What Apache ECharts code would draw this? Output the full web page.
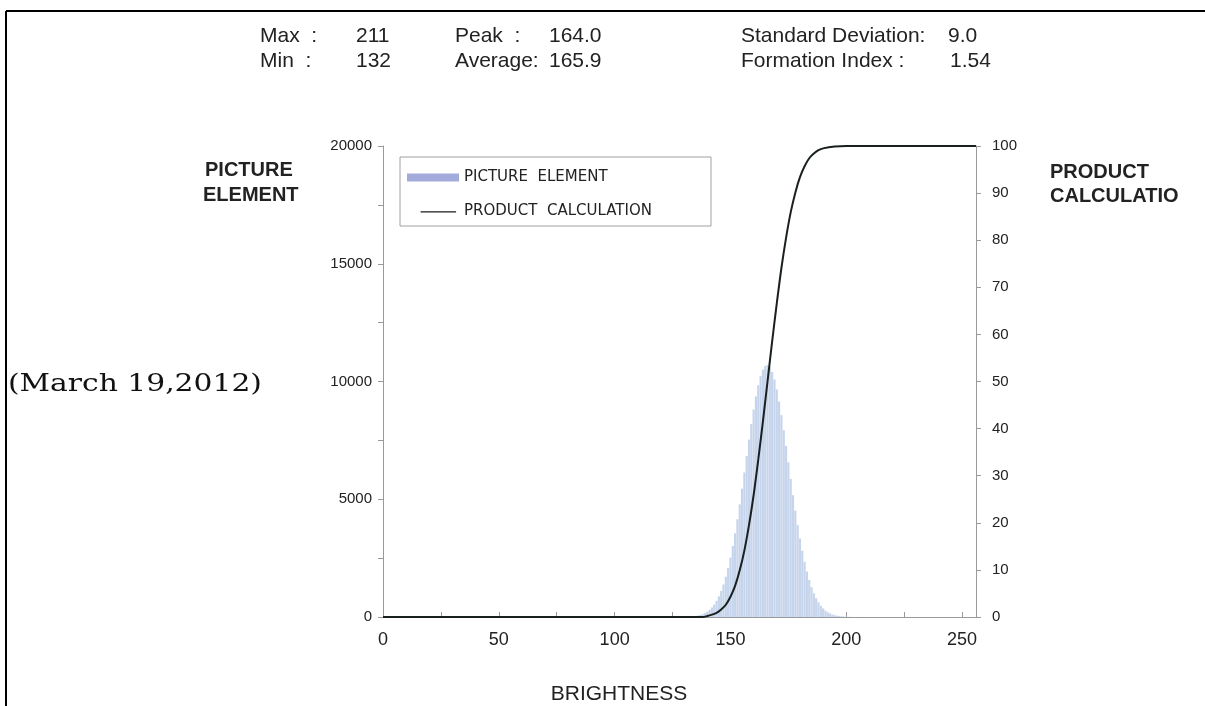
<!DOCTYPE html>
<html>
<head>
<meta charset="utf-8">
<title>Brightness histogram</title>
<script src="https://cdn.jsdelivr.net/npm/echarts@6/dist/echarts.min.js"></script>
<style>
  html, body { margin: 0; padding: 0; background: #fff; }
  #chart { width: 1205px; height: 706px; }
</style>
</head>
<body>
<div id="chart"></div>
<script>
// histogram: pixel count per brightness level, starting at binStart
var binStart = 132;
var pixelCounts = [
  14, 21, 31, 44, 63, 88, 122, 168, 228, 306,
  405, 530, 686, 877, 1108, 1383, 1710, 2087, 2522, 3014,
  3558, 4149, 4782, 5450, 6137, 6835, 7532, 8190, 8810, 9365,
  9843, 10226, 10501, 10660, 10698, 10611, 10405, 10085, 9663, 9153,
  8572, 7936, 7262, 6566, 5866, 5173, 4518, 3902, 3334, 2813,
  2342, 1929, 1572, 1267, 1010, 796, 621, 477, 362, 272,
  203, 149, 108, 78, 56, 40, 28, 19, 13, 9,
  6, 4, 3, 2, 2, 1, 1, 1, 1, 1
];

// cumulative ("product calculation") curve, percent
var cumX = [0, 138, 140, 142, 144, 146, 148, 150, 152, 154, 156, 158, 160, 162, 164,
            166, 168, 170, 172, 174, 176, 178, 180, 182, 184, 186, 188, 190, 195, 200, 256];
var cumY = [0, 0, 0.2, 0.5, 0.9, 1.6, 2.6, 4.3, 6.6, 9.9, 14.1, 19.5, 25.9, 33.4, 41.5,
            50, 58.5, 66.6, 74.1, 80.5, 85.9, 90.1, 93.4, 95.7, 97.4, 98.4, 99.1, 99.5, 99.9, 100, 100];

var statNames = ['Max  :', 'Min  :', 'Peak  :', 'Average:', 'Standard Deviation:', 'Formation Index :'];
var statValues = ['211', '132', '164.0', '165.9', '9.0', '1.54'];

var barData = [];
for (var i = 0; i < pixelCounts.length; i++) {
  barData.push([binStart + i, pixelCounts[i]]);
}
var lineData = [];
for (var j = 0; j < cumX.length; j++) {
  lineData.push([cumX[j], cumY[j]]);
}

var sans = 'Liberation Sans, Arial, sans-serif';
function txt(s, x, y, size, opts) {
  opts = opts || {};
  return {
    type: 'text', z: 20,
    x: x, y: y, scaleX: opts.scaleX || 1,
    style: {
      text: s, x: 0, y: 0,
      fontSize: size, fontFamily: opts.family || sans,
      fontWeight: opts.weight || 'normal',
      fill: opts.color || '#222',
      textAlign: opts.align || 'left',
      textVerticalAlign: 'middle'
    }
  };
}

var myChart = echarts.init(document.getElementById('chart'));
var option = {
  backgroundColor: '#fff',
  animation: false,
  grid: { left: 383, right: 229, top: 146, bottom: 89 },
  legend: {
    orient: 'vertical',
    left: 407, top: 170,
    padding: 0,
    itemWidth: 52, itemHeight: 8, itemGap: 19,
    z: 30,
    textStyle: { fontFamily: 'DejaVu Sans, sans-serif', fontSize: 15, color: '#222' },
    data: [
      { name: 'PICTURE  ELEMENT', icon: 'rect', itemStyle: { color: '#a3aadc' } },
      { name: 'PRODUCT  CALCULATION',
        icon: 'path://M0,0 L0.01,0 L0.01,0.01 Z M12,4.2 H52 V5.6 H12 Z M0,9 L0.01,9 L0.01,9.01 Z',
        itemStyle: { color: '#1a1f1f' } }
    ]
  },
  xAxis: {
    type: 'value', min: 0, max: 256, interval: 25,
    axisLine: { show: true, lineStyle: { color: '#9a9a9a', width: 1 } },
    axisTick: { show: true, inside: true, length: 5, lineStyle: { color: '#9a9a9a' } },
    splitLine: { show: false },
    axisLabel: {
      margin: 14, fontSize: 18, color: '#222', fontFamily: sans,
      showMaxLabel: false,
      formatter: function (v) { return v % 50 === 0 ? String(v) : ''; }
    }
  },
  yAxis: [
    {
      type: 'value', min: 0, max: 20000, interval: 2500,
      axisLine: { show: true, lineStyle: { color: '#9a9a9a', width: 1 } },
      axisTick: { show: true, length: 5, lineStyle: { color: '#9a9a9a' } },
      splitLine: { show: false },
      axisLabel: {
        margin: 11, fontSize: 15, color: '#222', fontFamily: sans,
        formatter: function (v) { return v % 5000 === 0 ? String(v) : ''; }
      }
    },
    {
      type: 'value', min: 0, max: 100, interval: 10, position: 'right',
      axisLine: { show: true, lineStyle: { color: '#9a9a9a', width: 1 } },
      axisTick: { show: true, length: 5, lineStyle: { color: '#9a9a9a' } },
      splitLine: { show: false },
      axisLabel: { margin: 16, fontSize: 15, color: '#222', fontFamily: sans }
    }
  ],
  series: [
    {
      name: 'PICTURE  ELEMENT',
      type: 'bar',
      barWidth: 2.2,
      itemStyle: { color: '#c6d5ec' },
      data: barData
    },
    {
      name: 'PRODUCT  CALCULATION',
      type: 'line',
      yAxisIndex: 1,
      smooth: 0.35,
      symbol: 'none',
      lineStyle: { color: '#1a1f1f', width: 2 },
      itemStyle: { color: '#1a1f1f' },
      z: 5,
      data: lineData
    }
  ],
  graphic: [
    // frame of the scanned sheet
    { type: 'line', z: 20, shape: { x1: 6, y1: 11, x2: 1205, y2: 11 }, style: { stroke: '#000', lineWidth: 2 } },
    { type: 'line', z: 20, shape: { x1: 6, y1: 11, x2: 6, y2: 706 }, style: { stroke: '#000', lineWidth: 2 } },
    // legend box
    { type: 'rect', z: 1, shape: { x: 400, y: 157, width: 311, height: 69 }, style: { fill: '#fff', stroke: '#a0a0a0', lineWidth: 1 } },
    txt(statNames[0], 260, 36, 21), txt(statValues[0], 356, 36, 21),
    txt(statNames[1], 260, 61, 21), txt(statValues[1], 356, 61, 21),
    txt(statNames[2], 455, 36, 21), txt(statValues[2], 549, 36, 21),
    txt(statNames[3], 455, 61, 21), txt(statValues[3], 549, 61, 21),
    txt(statNames[4], 741, 36, 21), txt(statValues[4], 948, 36, 21),
    txt(statNames[5], 741, 61, 21), txt(statValues[5], 950, 61, 21),
    txt('PICTURE', 205, 170, 20, { weight: 'bold' }),
    txt('ELEMENT', 203, 195, 20, { weight: 'bold' }),
    txt('PRODUCT', 1050, 172, 20, { weight: 'bold' }),
    txt('CALCULATIO', 1050, 196, 20, { weight: 'bold' }),
    txt('BRIGHTNESS', 619, 694, 21, { align: 'center' }),
    txt('(March 19,2012)', 8, 384, 25, { family: 'DejaVu Serif, serif', color: '#111', scaleX: 1.19 })
  ]
};
option && myChart.setOption(option);
</script>
</body>
</html>
